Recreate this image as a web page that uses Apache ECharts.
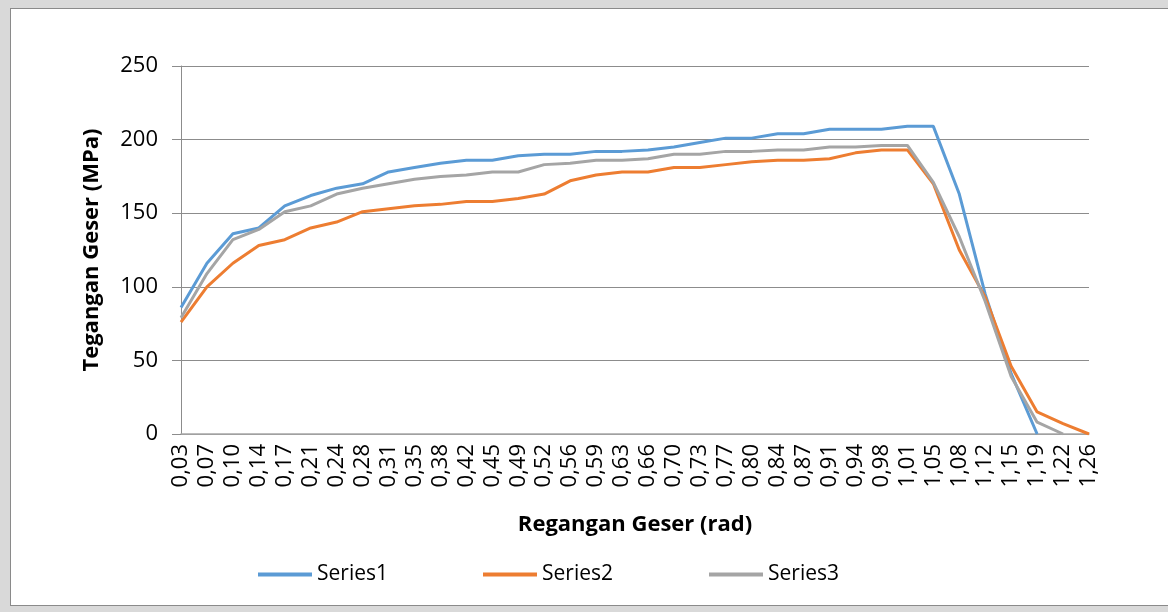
<!DOCTYPE html>
<html>
<head>
<meta charset="utf-8">
<script src="https://cdn.jsdelivr.net/npm/echarts@6/dist/echarts.min.js"></script>
<style>
  html, body { margin: 0; padding: 0; width: 1168px; height: 612px; background: #d9d9d9; overflow: hidden; }
  #frame { position: absolute; left: 10px; top: 8px; width: 1170px; height: 596px; background: #ffffff; border: 1px solid #8a8a8a; }
  #chart { position: absolute; left: 0; top: 0; width: 1168px; height: 612px; }
</style>
</head>
<body>
<div id="frame"></div>
<div id="chart"></div>
<script>
const categories = ["0,03","0,07","0,10","0,14","0,17","0,21","0,24","0,28","0,31","0,35","0,38","0,42","0,45","0,49","0,52","0,56","0,59","0,63","0,66","0,70","0,73","0,77","0,80","0,84","0,87","0,91","0,94","0,98","1,01","1,05","1,08","1,12","1,15","1,19","1,22","1,26"];
const series1 = [86,116,136,140,155,162,167,170,178,181,184,186,186,189,190,190,192,192,193,195,198,201,201,204,204,207,207,207,209,209,163,95,41,0,null,null];
const series2 = [76,100,116,128,132,140,144,151,153,155,156,158,158,160,163,172,176,178,178,181,181,183,185,186,186,187,191,193,193,170,125,93,46,15,7,0];
const series3 = [79,109,132,139,151,155,163,167,170,173,175,176,178,178,183,184,186,186,187,190,190,192,192,193,193,195,195,196,196,171,134,90,39,8,0,null];
const seriesNames = ["Series1","Series2","Series3"];
const yTicks = [0,50,100,150,200,250];

const FONT = "Open Sans";
const chart = echarts.init(document.getElementById('chart'), null, {renderer: 'canvas'});
const colors = ['#5B9BD5','#ED7D31','#A5A5A5'];
const dataSets = [series1, series2, series3];
const legendLefts = [253, 478, 704];

chart.setOption({
  backgroundColor: 'transparent',
  animation: false,
  color: colors,
  textStyle: { fontFamily: FONT },
  grid: { left: 181, right: 79, top: 66, bottom: 178, containLabel: false },
  legend: seriesNames.map((n, i) => ({
    data: [n],
    left: legendLefts[i], top: 559,
    icon: 'rect',
    itemWidth: 54, itemHeight: 4,
    itemGap: 0,
    textStyle: { fontFamily: FONT, fontSize: 21, color: '#000' }
  })),
  xAxis: {
    type: 'category',
    data: categories,
    boundaryGap: false,
    name: 'Regangan Geser (rad)',
    nameLocation: 'middle',
    nameGap: 80,
    nameTextStyle: { fontFamily: FONT, fontSize: 22, fontWeight: 'bold', color: '#000' },
    axisLine: { lineStyle: { color: '#a6a6a6', width: 1.5 } },
    axisTick: { show: false },
    axisLabel: { rotate: 90, interval: 0, margin: 10, fontFamily: FONT, fontSize: 22, color: '#000' },
    splitLine: { show: false }
  },
  yAxis: {
    type: 'value',
    min: yTicks[0], max: yTicks[yTicks.length-1], interval: 50,
    name: 'Tegangan Geser (MPa)',
    nameLocation: 'middle',
    nameGap: 78,
    nameTextStyle: { fontFamily: FONT, fontSize: 22, fontWeight: 'bold', color: '#000' },
    axisLine: { show: true, lineStyle: { color: '#8c8c8c', width: 1 } },
    axisTick: { show: true, length: 9, lineStyle: { color: '#8c8c8c' } },
    axisLabel: { margin: 23, fontFamily: FONT, fontSize: 22, color: '#000' },
    splitLine: { lineStyle: { color: '#8c8c8c', width: 1 } }
  },
  series: seriesNames.map((n, i) => ({
    name: n,
    type: 'line',
    data: dataSets[i],
    showSymbol: false,
    symbol: 'none',
    connectNulls: false,
    lineStyle: { width: 3, color: colors[i] },
    itemStyle: { color: colors[i] }
  }))
});
</script>
</body>
</html>
